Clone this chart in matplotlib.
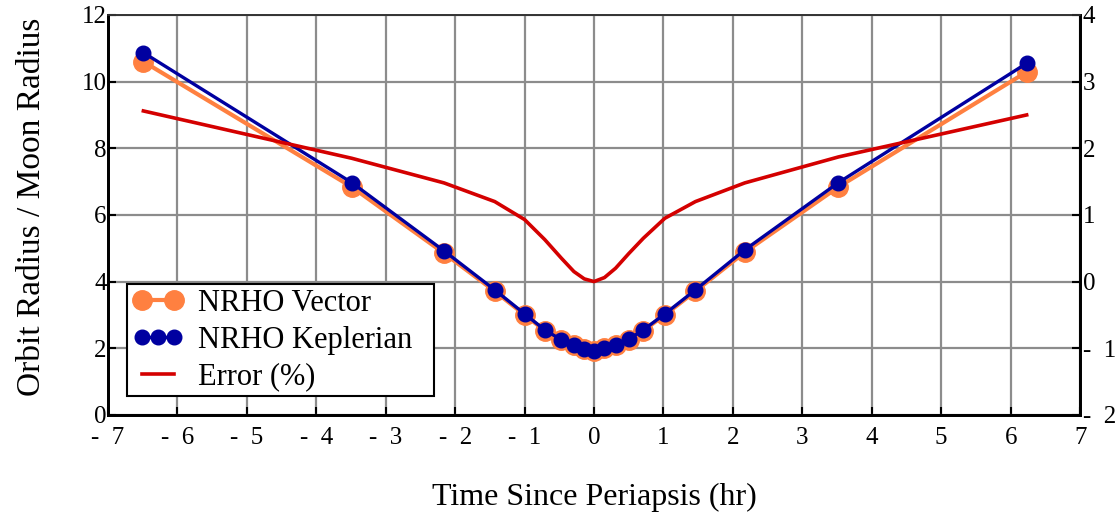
import matplotlib.pyplot as plt
from matplotlib.legend_handler import HandlerLine2D
from matplotlib.ticker import FuncFormatter, MultipleLocator

plt.rcParams['font.family'] = ['Liberation Serif', 'DejaVu Serif']

# time since periapsis (hr) for each sample
t_hr = [-6.49, -3.49, -2.16, -1.43, -1.00, -0.71, -0.47, -0.29, -0.14, 0.00,
        0.15, 0.31, 0.50, 0.71, 1.02, 1.46, 2.17, 3.52, 6.23]
# orbit radius in moon radii
r_vector = [10.60, 6.84, 4.85, 3.71, 3.00, 2.53, 2.24, 2.10, 1.97, 1.93,
            2.00, 2.10, 2.26, 2.53, 3.00, 3.71, 4.88, 6.84, 10.29]
r_kepler = [10.87, 6.97, 4.92, 3.75, 3.03, 2.55, 2.25, 2.10, 1.97, 1.93,
            2.00, 2.10, 2.27, 2.55, 3.03, 3.75, 4.95, 6.97, 10.55]
# percent error between the two
err_pct = [2.56, 1.85, 1.48, 1.20, 0.93, 0.63, 0.35, 0.15, 0.04, 0.00,
           0.06, 0.20, 0.42, 0.65, 0.95, 1.20, 1.48, 1.87, 2.50]

ORANGE = '#ff8040'
NAVY = '#0000a0'
RED = '#d40000'

fig = plt.figure(figsize=(11.2, 5.16), dpi=100)
ax = fig.add_axes([0.0964, 0.196, 0.868, 0.775])
ax2 = ax.twinx()

l_vec, = ax.plot(t_hr, r_vector, color=ORANGE, lw=3.0, marker='o', ms=14,
                 mec=ORANGE, mfc=ORANGE, zorder=3, label='NRHO Vector')
l_kep, = ax.plot(t_hr, r_kepler, color=NAVY, lw=2.4, marker='o', ms=10.5,
                 mec=NAVY, mfc=NAVY, zorder=4, label='NRHO Keplerian')
l_err, = ax2.plot(t_hr, err_pct, color=RED, lw=2.6, label='Error (%)')

ax.set_xlim(-7, 7)
ax.set_ylim(0, 12)
ax2.set_ylim(-2, 4)
ax.xaxis.set_major_locator(MultipleLocator(1))
ax.yaxis.set_major_locator(MultipleLocator(2))
ax2.yaxis.set_major_locator(MultipleLocator(1))

# Mathcad-style negatives: "-  3"
def mc_fmt(v, pos):
    v = int(round(v))
    return f'-  {abs(v)}' if v < 0 else f'{v}'

ax.xaxis.set_major_formatter(FuncFormatter(mc_fmt))
ax2.yaxis.set_major_formatter(FuncFormatter(mc_fmt))

ax.grid(True, color='#8c8c8c', lw=1.6)
ax.set_axisbelow(True)
ax.tick_params(axis='both', direction='in', length=6, width=1.5, labelsize=18)
ax.tick_params(axis='x', pad=9)
ax.tick_params(axis='y', pad=1)
ax2.tick_params(axis='y', direction='in', length=6, width=1.5, labelsize=18, pad=2)

for a in (ax, ax2):
    for side in ('left', 'bottom', 'right'):
        a.spines[side].set_linewidth(2.0)
        a.spines[side].set_color('black')
    a.spines['top'].set_linewidth(1.2)
    a.spines['top'].set_color('#333333')

ax.set_ylabel('Orbit Radius / Moon Radius', fontsize=24)
ax.yaxis.set_label_coords(-0.063, 0.52)
ax.set_xlabel('Time Since Periapsis (hr)', fontsize=23, labelpad=24)

leg = ax.legend(handles=[l_vec, l_kep, l_err], loc='lower left',
                bbox_to_anchor=(0.02, 0.046, 0.315, 0.28), mode='expand',
                borderaxespad=0,
                fontsize=22, frameon=True, fancybox=False, framealpha=1,
                edgecolor='black', handlelength=1.65, handletextpad=0.5,
                labelspacing=0.25, borderpad=0.17, numpoints=2,
                handler_map={l_kep: HandlerLine2D(numpoints=3)})
leg.get_frame().set_linewidth(1.5)
leg.set_zorder(10)

fig.savefig('out.png', dpi=100)
